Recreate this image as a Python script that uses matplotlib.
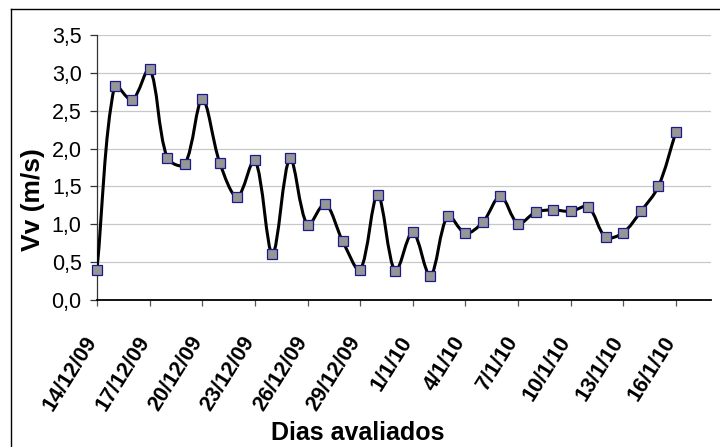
import numpy as np
import pandas as pd
import matplotlib
matplotlib.use("Agg")
import matplotlib.pyplot as plt
import matplotlib.dates as mdates
from matplotlib.path import Path
from matplotlib.patches import PathPatch
from matplotlib.lines import Line2D

plt.rcParams["font.family"] = ["Liberation Sans", "DejaVu Sans"]

# Daily wind speed (m/s)
first_day = "2009-12-14"
vv = [0.40, 2.83, 2.64, 3.05, 1.88, 1.79, 2.65, 1.81, 1.36, 1.85, 0.61, 1.87,
      0.99, 1.27, 0.78, 0.40, 1.39, 0.38, 0.90, 0.32, 1.11, 0.88, 1.03, 1.37,
      1.01, 1.16, 1.19, 1.17, 1.23, 0.83, 0.89, 1.17, 1.50, 2.22]
x_tick_labels = ["14/12/09", "17/12/09", "20/12/09", "23/12/09", "26/12/09",
                 "29/12/09", "1/1/10", "4/1/10", "7/1/10", "10/1/10",
                 "13/1/10", "16/1/10"]
y_ticks = [0.0, 0.5, 1.0, 1.5, 2.0, 2.5, 3.0, 3.5]
y_tick_labels = ["0,0", "0,5", "1,0", "1,5", "2,0", "2,5", "3,0", "3,5"]

days = pd.date_range(first_day, periods=len(vv), freq="D")
x = mdates.date2num(days)
y = np.asarray(vv, dtype=float)

W, H = 720, 447
fig = plt.figure(figsize=(W / 100, H / 100), dpi=100)
ax = fig.add_axes([97 / W, 1 - 300 / H, (711 - 97) / W, (300 - 35) / H])
ax.set_xlim(x[0], x[0] + 35)
ax.set_ylim(0, 3.5)


def smooth_path(axes, xs, ys, t=1 / 3):
    """Bezier curve through every point. Tangents follow the neighbouring
    points and are split in proportion to the adjacent segment lengths
    (measured in display space), which keeps overshoot small."""
    trans = axes.transData
    pts = trans.transform(np.column_stack([xs, ys]))
    n = len(pts)
    seg = np.hypot(*(np.diff(pts, axis=0).T))
    c_in = pts.copy()
    c_out = pts.copy()
    for i in range(n):
        a = pts[max(i - 1, 0)]
        b = pts[min(i + 1, n - 1)]
        d_prev = seg[i - 1] if i > 0 else 0.0
        d_next = seg[i] if i < n - 1 else 0.0
        tot = d_prev + d_next
        if tot == 0:
            continue
        c_out[i] = pts[i] + (b - a) * (d_next / tot) * t
        c_in[i] = pts[i] - (b - a) * (d_prev / tot) * t
    verts = [pts[0]]
    codes = [Path.MOVETO]
    for i in range(n - 1):
        verts += [c_out[i], c_in[i + 1], pts[i + 1]]
        codes += [Path.CURVE4] * 3
    verts = trans.inverted().transform(np.asarray(verts))
    return Path(verts, codes)


ax.add_patch(PathPatch(smooth_path(ax, x, y), facecolor="none",
                       edgecolor="black", lw=2.2, zorder=3,
                       capstyle="round", joinstyle="round"))
ax.plot(x, y, linestyle="none", marker="s", markersize=7.2,
        markerfacecolor="#969696", markeredgecolor="#1a1a8c",
        markeredgewidth=0.9, zorder=4, clip_on=False)

ax.set_yticks(y_ticks)
ax.set_yticklabels(y_tick_labels, fontsize=15.5)
ax.set_xticks(x[::3])
ax.set_xticklabels(x_tick_labels, fontsize=15.5, fontweight="bold",
                   rotation=58, ha="right", va="baseline",
                   rotation_mode="anchor")

ax.grid(axis="y", color="#c8c8c8", lw=0.9)
ax.set_axisbelow(True)
for side in ("top", "right"):
    ax.spines[side].set_visible(False)
ax.spines["left"].set_color("#333333")
ax.spines["left"].set_linewidth(0.9)
ax.spines["bottom"].set_color("black")
ax.spines["bottom"].set_linewidth(1.3)

ax.tick_params(axis="y", direction="out", length=5, width=0.9,
               color="#333333", pad=6)
ax.tick_params(axis="x", direction="out", length=4.5, width=0.9,
               color="#555555", pad=25)

fig.text(33 / W, 1 - 200 / H, "Vv (m/s)", rotation=90, ha="center",
         va="center", fontsize=19, fontweight="bold")
fig.text(358 / W, 1 - 433 / H, "Dias avaliados", ha="center", va="center",
         fontsize=18, fontweight="bold")

# outer chart frame
fig.add_artist(Line2D([11 / W, 1.0], [1 - 9 / H, 1 - 9 / H],
                      transform=fig.transFigure, color="black", lw=1.0))
fig.add_artist(Line2D([11 / W, 11 / W], [0.0, 1 - 9 / H],
                      transform=fig.transFigure, color="black", lw=1.0))

fig.savefig("out.png", dpi=100)
